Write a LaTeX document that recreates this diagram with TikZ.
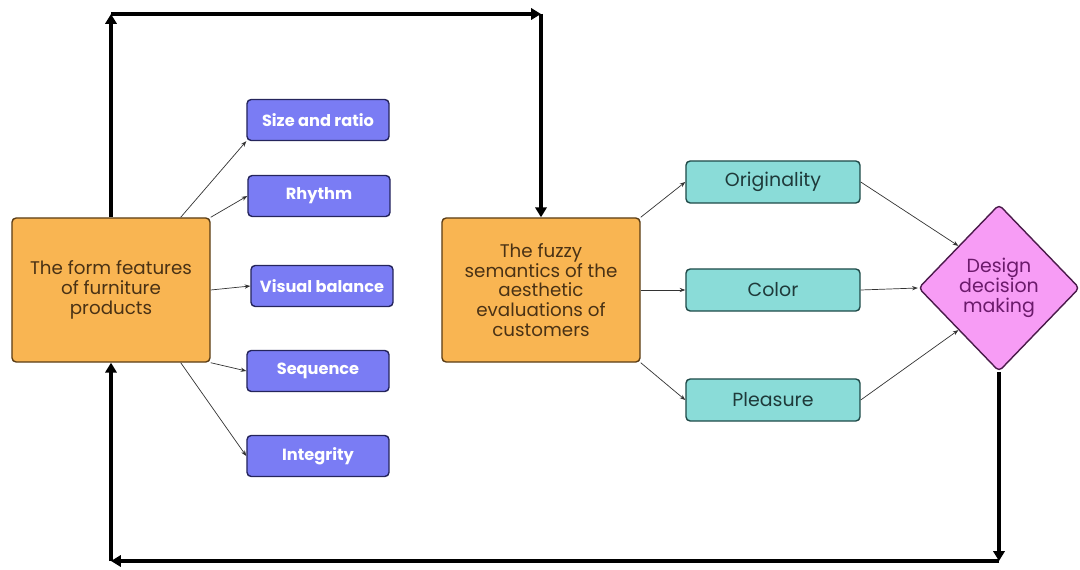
\documentclass[tikz,border=0pt]{standalone}
\usepackage{fontspec}
\setmainfont{Poppins}
\usetikzlibrary{arrows.meta,shapes.geometric}

\definecolor{boxorange}{HTML}{F9B552}
\definecolor{edgeorange}{HTML}{5A3C16}
\definecolor{txtorange}{HTML}{4A3215}
\definecolor{boxblue}{HTML}{7A7CF4}
\definecolor{edgeblue}{HTML}{25255C}
\definecolor{boxteal}{HTML}{8ADCD8}
\definecolor{edgeteal}{HTML}{1F4A48}
\definecolor{txtteal}{HTML}{1F3A3A}
\definecolor{boxpink}{HTML}{F79CF5}
\definecolor{edgepink}{HTML}{4A1A4A}
\definecolor{txtpink}{HTML}{6B1A6B}

\begin{document}
\begin{tikzpicture}[x=0.025cm, y=-0.025cm,
    mainbox/.style={draw=edgeorange, fill=boxorange, text=txtorange, line width=1pt,
      rounded corners=3pt, minimum width=4.95cm, minimum height=3.6cm, align=center,
      font=\fontsize{13}{14}\selectfont},
    featbox/.style={draw=edgeblue, fill=boxblue, text=white, line width=1pt,
      rounded corners=3pt, minimum width=3.55cm, minimum height=1.025cm,
      font=\fontsize{11.5}{13}\selectfont\bfseries},
    evalbox/.style={draw=edgeteal, fill=boxteal, text=txtteal, line width=1pt,
      rounded corners=3pt, minimum width=4.35cm, minimum height=1.05cm,
      font=\fontsize{13.5}{14}\selectfont},
    thin arrow/.style={-{Stealth[length=4pt,width=3pt]}, line width=0.5pt, black!80},
    loop arrow/.style={-{Triangle[length=7pt,width=8pt]}, line width=2.2pt, black}]

    \useasboundingbox (0,0) rectangle (1080,570);

    \node[mainbox] (form) at (111,290) {The form features\\of furniture\\products};
    \node[mainbox] (fuzzy) at (541,290) {The fuzzy\\semantics of the\\aesthetic\\evaluations of\\customers};

    \node[featbox] (size) at (318,120) {Size and ratio};
    \node[featbox] (rhythm) at (319,196) {Rhythm};
    \node[featbox] (balance) at (322,286) {Visual balance};
    \node[featbox] (sequence) at (318,371) {Sequence};
    \node[featbox] (integrity) at (318,456) {Integrity};

    \node[evalbox] (orig) at (773,182) {Originality};
    \node[evalbox] (color) at (773,290) {Color};
    \node[evalbox] (pleasure) at (773,400) {Pleasure};

    \node[diamond, draw=edgepink, fill=boxpink, text=txtpink, line width=1pt,
      rounded corners=3pt, minimum width=4.025cm, minimum height=4.175cm, inner sep=0pt,
      align=center, font=\fontsize{13.5}{14}\selectfont] (design) at (999,288)
      {Design\\decision\\making};

    % features of the form
    \draw[thin arrow] ([xshift=-0.75cm]form.north east) -- (size.south west);
    \draw[thin arrow] (form.north east) -- (rhythm.west);
    \draw[thin arrow] (form.east) -- (balance.west);
    \draw[thin arrow] (form.south east) -- (sequence.west);
    \draw[thin arrow] ([xshift=-0.75cm]form.south east) -- (integrity.west);

    % evaluations
    \draw[thin arrow] (fuzzy.north east) -- (orig.west);
    \draw[thin arrow] (fuzzy.east) -- (color.west);
    \draw[thin arrow] (fuzzy.south east) -- (pleasure.west);
    \draw[thin arrow] (orig.east) -- (design.north west);
    \draw[thin arrow] (color.east) -- (design.west);
    \draw[thin arrow] (pleasure.east) -- (design.south west);

    % feedback loops
    \coordinate (tl) at (form.north |- 0,14);
    \coordinate (tr) at (fuzzy.north |- 0,14);
    \coordinate (br) at (design.south |- 0,561);
    \coordinate (bl) at (form.south |- 0,561);
    \draw[loop arrow] (form.north) -- (tl);
    \draw[loop arrow] (tl) -- (tr);
    \draw[loop arrow] (tr) -- (fuzzy.north);
    \draw[loop arrow] (design.south) -- (br);
    \draw[loop arrow] (br) -- (bl);
    \draw[loop arrow] (bl) -- (form.south);
\end{tikzpicture}
\end{document}
